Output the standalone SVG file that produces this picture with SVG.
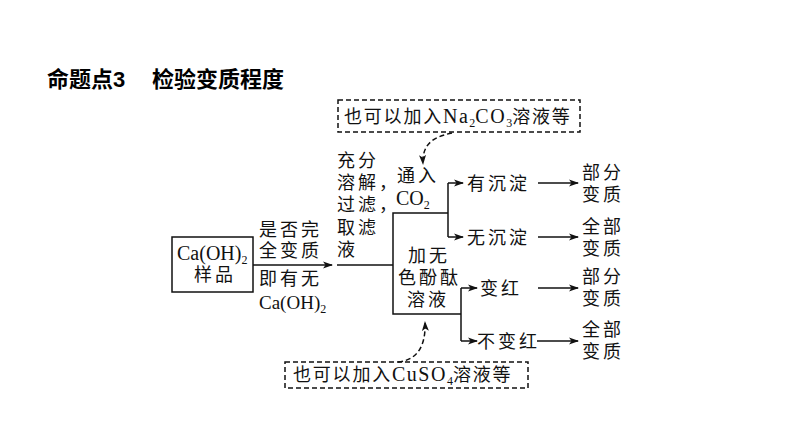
<svg xmlns="http://www.w3.org/2000/svg" width="794" height="447" viewBox="0 0 794 447">
<style>
.t{font-family:"Liberation Serif","Noto Sans CJK SC",serif;font-size:18px;fill:#111;letter-spacing:3px}
.n{letter-spacing:1.8px}
.l{font-size:20px;letter-spacing:0}
.nl{font-size:20px;letter-spacing:1.5px}
.s{font-size:12px;letter-spacing:0}
.ln{stroke:#111;stroke-width:1.5;fill:none}
.ds{stroke:#111;stroke-width:1.5;fill:none;stroke-dasharray:5,3}
.title{font-family:"Liberation Sans","Noto Sans CJK SC",sans-serif;font-size:22px;font-weight:bold;fill:#000}
</style>
<defs>
<marker id="ah" markerWidth="10" markerHeight="8" refX="9" refY="4" orient="auto" markerUnits="userSpaceOnUse">
<path d="M0,0.5 L10,4 L0,7.5 L2.5,4 Z" fill="#111"/>
</marker>
</defs>
<rect width="794" height="447" fill="#fff"/>
<g id="title">
<text class="title" x="47" y="87">命题点3</text>
<text class="title" x="152" y="87">检验变质程度</text>
</g>

<g id="note-top">
<rect class="ds" x="338" y="100" width="242" height="32"/>
<text class="t n" x="344" y="123">也可以加入<tspan class="nl">Na</tspan><tspan class="s" dy="4">2</tspan><tspan class="nl" dy="-4">CO</tspan><tspan class="s" dy="4">3</tspan><tspan dy="-4">溶液等</tspan></text>
</g>

<g id="sample">
<rect class="ln" x="172" y="237" width="81" height="55"/>
<text class="t l" x="177" y="260">Ca(OH)<tspan class="s" dy="4">2</tspan></text>
<text class="t" x="194" y="281">样品</text>
</g>

<g id="label-q">
<text class="t" x="259" y="236">是否完</text>
<text class="t" x="259" y="257">全变质</text>
<text class="t" x="259" y="285">即有无</text>
<text class="t" x="259" y="309" style="font-size:19px;letter-spacing:0">Ca(OH)<tspan class="s" dy="4">2</tspan></text>
</g>

<g id="label-step">
<text class="t" x="337" y="167">充分</text>
<text class="t" x="337" y="189">溶解，</text>
<text class="t" x="337" y="211">过滤，</text>
<text class="t" x="337" y="234">取滤</text>
<text class="t" x="337" y="256">液</text>
</g>

<g id="label-co2">
<text class="t" x="397" y="182">通入</text>
<text class="t l" x="396" y="205">CO<tspan class="s" dy="4">2</tspan></text>
</g>

<g id="label-phen">
<text class="t" x="408" y="262">加无</text>
<text class="t" x="398" y="284">色酚酞</text>
<text class="t" x="407" y="306">溶液</text>
</g>

<g id="r1"><text class="t" x="467" y="190">有沉淀</text></g>
<g id="r2"><text class="t" x="467" y="244">无沉淀</text></g>
<g id="r3"><text class="t" x="480" y="295">变红</text></g>
<g id="r4"><text class="t" x="477" y="348">不变红</text></g>

<g id="c1"><text class="t" x="582" y="179">部分</text><text class="t" x="582" y="201">变质</text></g>
<g id="c2"><text class="t" x="582" y="233">全部</text><text class="t" x="582" y="255">变质</text></g>
<g id="c3"><text class="t" x="582" y="283">部分</text><text class="t" x="582" y="305">变质</text></g>
<g id="c4"><text class="t" x="582" y="336">全部</text><text class="t" x="582" y="358">变质</text></g>

<g id="note-bottom">
<rect class="ds" x="285" y="362" width="243" height="26"/>
<text class="t n" x="293" y="381">也可以加入<tspan class="nl">CuSO</tspan><tspan class="s" dy="4">4</tspan><tspan dy="-4">溶液等</tspan></text>
</g>

<g id="connectors">
<line class="ln" x1="253" y1="265" x2="332" y2="265" marker-end="url(#ah)"/>
<polyline class="ln" points="337,265 393,265"/>
<polyline class="ln" points="448,213 393,213 393,314 461,314"/>
<polyline class="ln" points="448,183 448,237"/>
<line class="ln" x1="448" y1="183" x2="463" y2="183" marker-end="url(#ah)"/>
<line class="ln" x1="448" y1="237" x2="463" y2="237" marker-end="url(#ah)"/>
<line class="ln" x1="538" y1="183" x2="578" y2="183" marker-end="url(#ah)"/>
<line class="ln" x1="538" y1="237" x2="578" y2="237" marker-end="url(#ah)"/>
<polyline class="ln" points="461,288 461,341"/>
<line class="ln" x1="461" y1="288" x2="477" y2="288" marker-end="url(#ah)"/>
<line class="ln" x1="461" y1="341" x2="477" y2="341" marker-end="url(#ah)"/>
<line class="ln" x1="538" y1="288" x2="578" y2="288" marker-end="url(#ah)"/>
<line class="ln" x1="537" y1="341" x2="578" y2="341" marker-end="url(#ah)"/>
<path class="ds" d="M452,133 C432,137 422,145 423,164" marker-end="url(#ah)"/>
<path class="ds" d="M398,362 C418,360 426,345 425,322" marker-end="url(#ah)"/>
</g>
</svg>
